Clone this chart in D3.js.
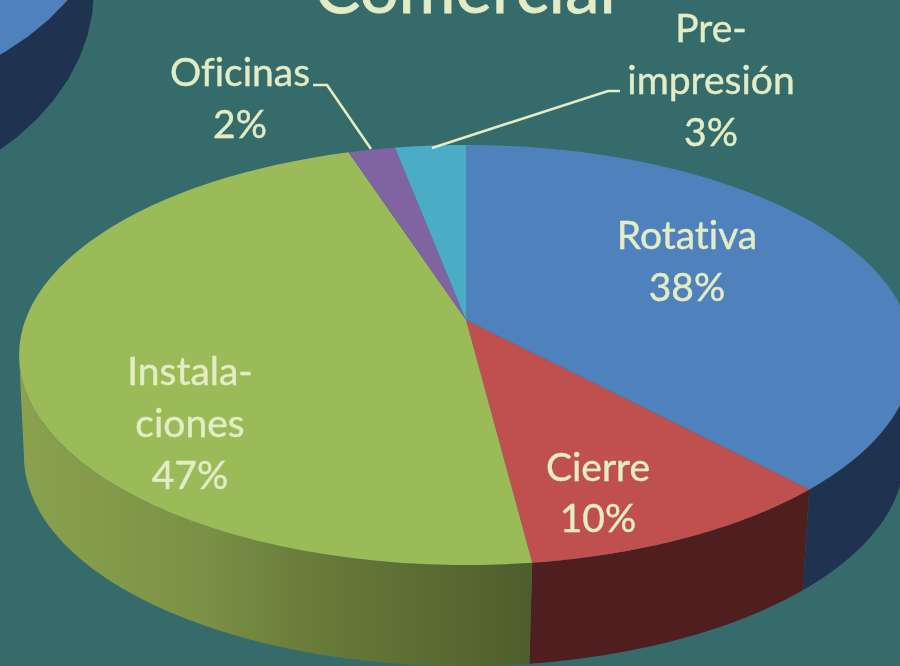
<!DOCTYPE html>
<html><head><meta charset="utf-8">
<script src="https://cdn.jsdelivr.net/npm/d3@7/dist/d3.min.js"></script>
<style>html,body{margin:0;padding:0;background:#366b6b;overflow:hidden}svg{display:block}text{font-family:Lato,"Open Sans",sans-serif;font-variant-ligatures:none}</style>
</head><body><svg id="c" width="900" height="666"></svg>
<script>
const categories = ["Rotativa","Cierre","Instalaciones","Oficinas","Pre-impresión"];
const values = [38,10,47,2,3];
const labelLines = [["Rotativa","38%"],["Cierre","10%"],["Instala-","ciones","47%"],["Oficinas","2%"],["Pre-","impresión","3%"]];
const topColors = ["#4f81bd","#c0504d","#9bbb59","#8064a2","#4bacc6"];
const sideColors = ["#1f3350","#4f1f1f","url(#gs)","#4c3c61","#2d6677"];
const titleText = "Comercial";

const W=900,H=666,svg=d3.select("#c");
const ink="#e3ecc4";
// perspective of the disc: apex and foreshortening
const apex=[466,320],k=1/6,A=440.7,B=204.2,depth=101,shrink=0.985,shift=-1.8;
const rim=t=>{const X=Math.sin(t),Y=-Math.cos(t),w=1-k*Y;return [apex[0]+A*X/w,apex[1]+B*Y/w];};
const low=p=>[apex[0]+(p[0]-apex[0])*shrink+shift,p[1]+depth];
const samples=(a,b)=>d3.range(0,61).map(i=>a+(b-a)*i/60);
const line=d3.line();

const defs=svg.append("defs");
const gs=defs.append("linearGradient").attr("id","gs").attr("gradientUnits","userSpaceOnUse")
  .attr("x1",20).attr("x2",532).attr("y1",0).attr("y2",0);
[[0,"#8aa24e"],[0.35,"#7b9246"],[0.55,"#6a7d3b"],[1,"#4e5e2b"]].forEach(s=>
  gs.append("stop").attr("offset",s[0]).attr("stop-color",s[1]));
defs.append("filter").attr("id","soft").append("feGaussianBlur").attr("stdDeviation",0.55);

svg.append("rect").attr("width",W).attr("height",H).attr("fill","#366b6b");

// neighbouring pie, cropped at the top-left corner
const ell=(cx,cy,rx,ry)=>samples(0,2*Math.PI).map(t=>[cx+rx*Math.cos(t),cy+ry*Math.sin(t)]);
svg.append("path").attr("d",line(ell(-206,-10,300,220))+"Z").attr("fill","#1f3350");
svg.append("path").attr("d",line(ell(-206,-104,315,210))+"Z").attr("fill","#4f81bd");

const arcs=d3.pie().sort(null).value(d=>d)(values);
const visA=Math.acos(-k),visB=2*Math.PI-visA;

// pie wall
svg.append("g").selectAll("path").data(arcs).join("path")
  .attr("d",d=>{
    const a=Math.max(d.startAngle,visA),b=Math.min(d.endAngle,visB);
    if(b<=a) return null;
    const up=samples(a,b).map(rim),dn=up.map(low).reverse();
    return line(up.concat(dn))+"Z";
  })
  .attr("fill",(d,i)=>sideColors[i]);

// pie top
svg.append("g").selectAll("path").data(arcs).join("path")
  .attr("d",d=>line([apex].concat(samples(d.startAngle,d.endAngle).map(rim)))+"Z")
  .attr("fill",(d,i)=>topColors[i]);

// leader lines
const leaders=[[[313,85],[327,85],[371,149]],[[620,91],[608,91],[432,148]]];
svg.append("g").selectAll("path").data(leaders).join("path")
  .attr("d",line).attr("fill","none").attr("stroke",ink).attr("stroke-width",2.6);

// labels: centre x and first baseline for each category
const anchors=[[687,249],[598,481],[190,385],[240,86],[711,42]];
const lh=[52,51,52,52,52];
const t=svg.append("g").attr("filter","url(#soft)").attr("fill",ink).attr("text-anchor","middle").attr("font-size",39)
  .attr("stroke",ink).attr("stroke-width",0.4);
labelLines.forEach((ls,i)=>ls.forEach((s,j)=>t.append("text")
  .attr("x",anchors[i][0]).attr("y",anchors[i][1]+j*lh[i]).text(s)));
t.append("text").attr("x",465).attr("y",13).attr("font-size",69).attr("stroke-width",0.8).text(titleText);
</script></body></html>
